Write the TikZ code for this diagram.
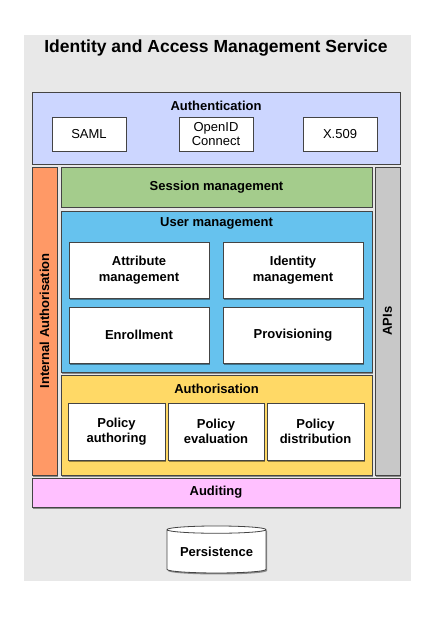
\documentclass[tikz,border=0pt]{standalone}
\usepackage{fontspec}
\setmainfont{Liberation Sans}
\usetikzlibrary{shapes.geometric,shadows}
\definecolor{bgc}{HTML}{E8E8E8}
\definecolor{linec}{HTML}{444444}
\definecolor{authc}{HTML}{CCD6FF}
\definecolor{sessc}{HTML}{A4CC8C}
\definecolor{userc}{HTML}{66C2EE}
\definecolor{authzc}{HTML}{FFD966}
\definecolor{intc}{HTML}{FF9966}
\definecolor{apic}{HTML}{C8C8C8}
\definecolor{auditc}{HTML}{FFC0FF}
\begin{document}
\begin{tikzpicture}[x=1pt,y=-1pt,
  blk/.style={draw=linec, line width=0.8pt, inner sep=0pt, align=center,
    font=\fontsize{13}{15.5}\selectfont\bfseries,
    drop shadow={shadow xshift=1pt, shadow yshift=-1.5pt, opacity=0.4, fill=black}},
  wbox/.style={blk, fill=white},
  rbox/.style={wbox, font=\fontsize{13}{14.5}\selectfont},
  ttl/.style={font=\fontsize{13}{15.5}\selectfont\bfseries, inner sep=0pt}]
\useasboundingbox (0,0) rectangle (436,617);
\fill[bgc] (24,35) rectangle (411,581);
\node[font=\fontsize{17.5}{20}\selectfont\bfseries] (title) at (216,48) {Identity and Access Management Service};
% Authentication
\node[blk, fill=authc, minimum width=368pt, minimum height=72pt] (authn) at (216,128) {};
\node[ttl] (authnt) at (216,106) {Authentication};
\node[rbox, minimum width=74pt, minimum height=34pt] (saml) at (89,134) {SAML};
\node[rbox, minimum width=74pt, minimum height=34pt] (oidc) at (216,134) {OpenID\\Connect};
\node[rbox, minimum width=74pt, minimum height=34pt] (x509) at (340,134) {X.509};
% side columns
\node[blk, fill=intc, minimum width=25pt, minimum height=308pt] (intauth) at (44.5,321) {};
\node[ttl, rotate=90] (intautht) at (44.5,321) {Internal Authorisation};
\node[blk, fill=apic, minimum width=25pt, minimum height=308pt] (apis) at (387.5,321) {};
\node[ttl, rotate=90] (apist) at (387.5,321) {APIs};
% session
\node[blk, fill=sessc, minimum width=311pt, minimum height=40pt] (sess) at (216.5,187) {Session management};
% user management
\node[blk, fill=userc, minimum width=311pt, minimum height=161pt] (user) at (216.5,291.5) {};
\node[ttl] (usert) at (216.5,223) {User management};
\node[wbox, minimum width=140pt, minimum height=56pt] (attr) at (139,270) {Attribute\\management};
\node[wbox, minimum width=140pt, minimum height=56pt] (ident) at (293,270) {Identity\\management};
\node[wbox, minimum width=140pt, minimum height=56pt] (enrol) at (139,335) {Enrollment};
\node[wbox, minimum width=140pt, minimum height=56pt] (prov) at (293,335) {Provisioning};
% authorisation
\node[blk, fill=authzc, minimum width=311pt, minimum height=100pt] (authz) at (216.5,425) {};
\node[ttl] (authzt) at (216.5,389) {Authorisation};
\node[wbox, minimum width=97pt, minimum height=57pt] (pauth) at (116.5,431.5) {Policy\\authoring};
\node[wbox, minimum width=96pt, minimum height=57pt] (peval) at (216,431.5) {Policy\\evaluation};
\node[wbox, minimum width=97pt, minimum height=57pt] (pdist) at (315.5,431.5) {Policy\\distribution};
% auditing
\node[blk, fill=auditc, minimum width=368pt, minimum height=29pt] (audit) at (216,492.5) {Auditing};
% persistence
\node[blk, fill=white, cylinder, shape border rotate=90, aspect=0.1,
  minimum width=99pt, minimum height=47pt] (persist) at (216.5,551.5) {Persistence};
\end{tikzpicture}
\end{document}
